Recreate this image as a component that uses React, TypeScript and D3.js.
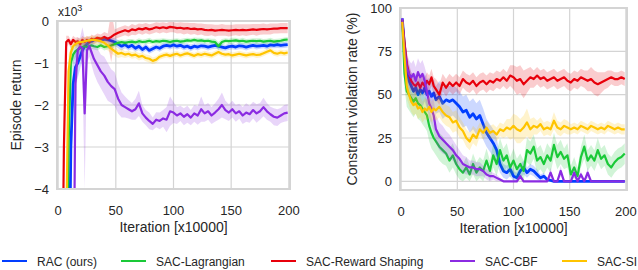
import React from 'react'
import * as d3 from 'd3'

// iteration [x10000] sample points shared by every curve
const X = [
  1, 3, 5, 7, 9, 11, 13, 15,
  17, 19, 21, 23, 25, 27, 29, 31,
  34, 37, 40, 43, 46, 49, 52, 55,
  58, 61, 64, 67, 70, 73, 76, 79,
  82, 85, 88, 91, 94, 97, 100, 103,
  106, 109, 112, 115, 118, 121, 124, 127,
  130, 133, 136, 139, 142, 145, 148, 151,
  154, 157, 160, 163, 166, 169, 172, 175,
  178, 181, 184, 187, 190, 193, 196, 199,
]

const NAMES = ['RAC (ours)', 'SAC-Lagrangian', 'SAC-Reward Shaping', 'SAC-CBF', 'SAC-SI']
const COLORS = ['#023eff', '#1ac938', '#e8000b', '#8b2be2', '#ffc400']

// episode return (x10^3)
const RET_RAC = [
  -8, -8, -8, -8, -8, -3, -1.5, -1.1,
  -1.0, -0.85, -0.7, -0.6, -0.55, -0.5, -0.48, -0.45,
  -0.44, -0.46, -0.43, -0.45, -0.47, -0.5, -0.55, -0.6,
  -0.56, -0.62, -0.58, -0.65, -0.6, -0.68, -0.62, -0.7,
  -0.66, -0.62, -0.65, -0.6, -0.58, -0.6, -0.57, -0.6,
  -0.58, -0.62, -0.6, -0.64, -0.6, -0.62, -0.59, -0.6,
  -0.62, -0.6, -0.58, -0.6, -0.62, -0.64, -0.61, -0.6,
  -0.62, -0.59, -0.6, -0.62, -0.6, -0.58, -0.6, -0.59,
  -0.58, -0.6, -0.57, -0.58, -0.56, -0.58, -0.57, -0.56,
]
const RET_RAC_SD = [
  0, 0, 0, 0, 0, 1.0, 0.6, 0.4,
  0.35, 0.3, 0.2, 0.12, 0.1, 0.08, 0.08, 0.07,
  0.07, 0.08, 0.08, 0.07, 0.08, 0.09, 0.1, 0.1,
  0.09, 0.08, 0.09, 0.08, 0.09, 0.08, 0.09, 0.08,
  0.08, 0.07, 0.08, 0.08, 0.07, 0.08, 0.07, 0.08,
  0.07, 0.08, 0.07, 0.08, 0.07, 0.08, 0.07, 0.07,
  0.08, 0.07, 0.08, 0.07, 0.08, 0.07, 0.08, 0.07,
  0.07, 0.08, 0.07, 0.08, 0.07, 0.07, 0.08, 0.07,
  0.07, 0.08, 0.07, 0.07, 0.08, 0.07, 0.07, 0.07,
]
const RET_LAG = [
  -8, -8, -8, -8, -3, -1.0, -0.8, -0.72,
  -0.68, -0.65, -0.62, -0.6, -0.62, -0.6, -0.58, -0.6,
  -0.62, -0.58, -0.62, -0.6, -0.58, -0.55, -0.52, -0.5,
  -0.52, -0.5, -0.49, -0.51, -0.48, -0.5, -0.49, -0.47,
  -0.5, -0.48, -0.49, -0.47, -0.48, -0.5, -0.48, -0.47,
  -0.49, -0.48, -0.46, -0.47, -0.45, -0.47, -0.46, -0.48,
  -0.47, -0.49, -0.5, -0.6, -0.5, -0.47, -0.48, -0.47,
  -0.46, -0.48, -0.47, -0.49, -0.48, -0.47, -0.48, -0.47,
  -0.49, -0.48, -0.47, -0.49, -0.48, -0.47, -0.45, -0.44,
]
const RET_LAG_SD = [
  0, 0, 0, 0, 1.0, 0.4, 0.2, 0.15,
  0.12, 0.1, 0.1, 0.09, 0.1, 0.09, 0.08, 0.08,
  0.08, 0.07, 0.08, 0.07, 0.08, 0.07, 0.07, 0.06,
  0.06, 0.07, 0.06, 0.06, 0.07, 0.06, 0.06, 0.07,
  0.06, 0.06, 0.07, 0.06, 0.06, 0.07, 0.06, 0.06,
  0.06, 0.07, 0.06, 0.06, 0.06, 0.07, 0.06, 0.06,
  0.06, 0.07, 0.08, 0.1, 0.07, 0.06, 0.06, 0.07,
  0.06, 0.06, 0.07, 0.06, 0.06, 0.06, 0.07, 0.06,
  0.06, 0.06, 0.07, 0.06, 0.06, 0.06, 0.06, 0.06,
]
const RET_RS = [
  -8, -8, -3, -0.5, -0.45, -0.55, -0.45, -0.5,
  -0.48, -0.55, -0.45, -0.5, -0.45, -0.5, -0.42, -0.45,
  -0.4, -0.42, -0.38, -0.42, -0.38, -0.32, -0.28, -0.25,
  -0.22, -0.25, -0.2, -0.22, -0.18, -0.2, -0.17, -0.2,
  -0.18, -0.15, -0.17, -0.15, -0.17, -0.14, -0.15, -0.17,
  -0.16, -0.18, -0.17, -0.19, -0.18, -0.2, -0.19, -0.21,
  -0.22, -0.21, -0.23, -0.22, -0.21, -0.22, -0.23, -0.22,
  -0.21, -0.22, -0.21, -0.22, -0.21, -0.2, -0.21, -0.2,
  -0.19, -0.2, -0.19, -0.18, -0.18, -0.17, -0.17, -0.17,
]
const RET_RS_SD = [
  0, 0, 1.0, 0.15, 0.1, 0.1, 0.1, 0.1,
  0.1, 0.1, 0.1, 0.1, 0.1, 0.1, 0.1, 0.1,
  0.1, 0.1, 0.12, 0.12, 0.6, 0.12, 0.12, 0.12,
  0.12, 0.12, 0.13, 0.12, 0.12, 0.13, 0.12, 0.12,
  0.12, 0.12, 0.13, 0.12, 0.12, 0.13, 0.12, 0.13,
  0.13, 0.14, 0.13, 0.14, 0.13, 0.14, 0.13, 0.14,
  0.14, 0.13, 0.14, 0.13, 0.14, 0.13, 0.14, 0.13,
  0.13, 0.14, 0.13, 0.14, 0.13, 0.13, 0.14, 0.13,
  0.13, 0.12, 0.13, 0.12, 0.12, 0.12, 0.12, 0.12,
]
const RET_CBF = [
  -8, -8, -8, -8, -8, -8, -8, -1.5,
  -0.7, -0.6, -0.65, -2.2, -0.7, -0.6, -0.75, -0.9,
  -1.05, -1.2, -1.3, -1.45, -1.55, -1.62, -1.85, -2.0,
  -2.05, -2.1, -2.15, -2.1, -1.96, -2.2, -2.3, -2.38,
  -2.45, -2.35, -2.38, -2.32, -2.35, -2.15, -2.18, -2.25,
  -2.2, -2.28, -2.22, -2.3, -2.2, -2.25, -2.1, -2.2,
  -2.15, -2.25, -2.18, -2.1, -2.0, -2.12, -2.18, -2.1,
  -2.2, -2.15, -2.25, -2.18, -2.22, -2.12, -2.2, -2.15,
  -2.05, -2.15, -2.22, -2.28, -2.3, -2.25, -2.2, -2.18,
]
const RET_CBF_SD = [
  0, 0, 0, 0, 0, 0, 0, 1.0,
  0.3, 0.2, 0.5, 1.8, 0.3, 0.25, 0.3, 0.35,
  0.4, 0.4, 0.45, 0.45, 0.4, 0.4, 0.35, 0.3,
  0.25, 0.22, 0.2, 0.25, 0.3, 0.2, 0.18, 0.2,
  0.15, 0.18, 0.2, 0.2, 0.3, 0.35, 0.25, 0.2,
  0.18, 0.2, 0.2, 0.18, 0.2, 0.22, 0.3, 0.2,
  0.2, 0.2, 0.22, 0.25, 0.3, 0.22, 0.2, 0.2,
  0.2, 0.18, 0.2, 0.22, 0.2, 0.2, 0.22, 0.2,
  0.22, 0.2, 0.18, 0.2, 0.2, 0.18, 0.2, 0.2,
]
const RET_SI = [
  -8, -8, -8, -5, -1.2, -0.75, -0.6, -0.55,
  -0.52, -0.5, -0.5, -0.48, -0.47, -0.46, -0.45, -0.45,
  -0.46, -0.48, -0.52, -0.58, -0.66, -0.72, -0.78, -0.76,
  -0.8, -0.78, -0.82, -0.8, -0.85, -0.83, -0.88, -0.9,
  -0.95, -0.92, -0.85, -0.82, -0.8, -0.83, -0.8, -0.78,
  -0.82, -0.79, -0.77, -0.8, -0.83, -0.79, -0.81, -0.78,
  -0.8, -0.82, -0.78, -0.74, -0.78, -0.8, -0.79, -0.82,
  -0.8, -0.78, -0.8, -0.82, -0.8, -0.79, -0.81, -0.8,
  -0.77, -0.73, -0.7, -0.76, -0.78, -0.75, -0.77, -0.75,
]
const RET_SI_SD = [
  0, 0, 0, 1.0, 0.4, 0.15, 0.1, 0.1,
  0.1, 0.1, 0.1, 0.1, 0.1, 0.1, 0.1, 0.1,
  0.1, 0.11, 0.12, 0.12, 0.12, 0.11, 0.1, 0.1,
  0.08, 0.08, 0.08, 0.08, 0.09, 0.08, 0.08, 0.09,
  0.08, 0.08, 0.07, 0.07, 0.07, 0.07, 0.07, 0.07,
  0.07, 0.07, 0.07, 0.07, 0.07, 0.07, 0.07, 0.07,
  0.07, 0.07, 0.07, 0.07, 0.07, 0.07, 0.07, 0.07,
  0.07, 0.07, 0.07, 0.07, 0.07, 0.07, 0.07, 0.07,
  0.07, 0.07, 0.07, 0.07, 0.07, 0.07, 0.07, 0.07,
]

// constraint violation rate (%)
const VIO_RAC = [
  94, 78, 65, 58, 55, 52, 54, 50,
  53, 51, 54, 50, 52, 49, 51, 47,
  49, 45, 47, 46, 47, 45, 43, 40,
  41, 37, 39, 36, 38, 33, 28, 25,
  22, 18, 10, 6, 5, 7, 3, 2,
  6, 8, 5, 7, 6, 4, 2, 3,
  1, 0.5, 0, 0, 0, 0, 0, 0,
  0, 0, 0, 0, 0, 0, 0, 0,
  0, 0, 0, 0, 0, 0, 0, 0,
]
const VIO_RAC_SD = [
  1, 5, 7, 8, 8, 8, 8, 8,
  8, 8, 8, 8, 8, 8, 8, 8,
  9, 9, 9, 9, 9, 9, 9, 9,
  9, 9, 9, 9, 9, 9, 8, 8,
  8, 7, 5, 4, 4, 4, 3, 3,
  4, 4, 3, 3, 3, 3, 2, 2,
  1, 1, 0, 0, 0, 0, 0, 0,
  0, 0, 0, 0, 0, 0, 0, 0,
  0, 0, 0, 0, 0, 0, 0, 0,
]
const VIO_LAG = [
  93, 62, 52, 50, 48, 46, 48, 45,
  44, 42, 40, 38, 32, 28, 25, 23,
  20, 18, 16, 12, 15, 10, 7, 5,
  8, 4, 10, 5, 8, 6, 12, 6,
  15, 10, 18, 12, 15, 8, 12, 7,
  10, 6, 18, 16, 20, 12, 14, 10,
  15, 12, 21, 14, 17, 13, 15, 4,
  8, 3, 14, 20, 12, 15, 12, 18,
  13, 15, 10, 8, 11, 13, 14, 16,
]
const VIO_LAG_SD = [
  2, 8, 9, 9, 9, 9, 9, 9,
  9, 9, 9, 9, 9, 9, 8, 8,
  8, 8, 7, 7, 7, 6, 6, 5,
  6, 5, 6, 6, 6, 6, 7, 6,
  7, 7, 7, 7, 7, 6, 7, 6,
  6, 6, 7, 7, 7, 7, 7, 6,
  7, 7, 7, 7, 7, 6, 7, 5,
  6, 5, 6, 7, 6, 6, 6, 7,
  6, 6, 6, 6, 6, 6, 6, 6,
]
const VIO_RS = [
  93, 80, 68, 62, 58, 56, 55, 57,
  54, 57, 55, 58, 56, 60, 55, 53,
  50, 57, 54, 57, 55, 57, 55, 59,
  57, 56, 58, 55, 57, 58, 56, 58,
  57, 59, 58, 60, 58, 61, 60, 58,
  59, 56, 58, 60, 59, 61, 59, 60,
  58, 59, 60, 58, 59, 60, 58, 57,
  59, 58, 60, 59, 58, 59, 57, 56,
  57, 58, 59, 60, 59, 59, 60, 59,
]
const VIO_RS_SD = [
  2, 6, 7, 6, 5, 5, 5, 5,
  5, 5, 5, 5, 5, 5, 5, 6,
  6, 5, 5, 5, 5, 5, 5, 5,
  5, 5, 5, 5, 5, 5, 5, 5,
  5, 5, 5, 5, 5, 6, 7, 8,
  8, 8, 7, 6, 5, 5, 5, 5,
  5, 5, 5, 5, 5, 5, 5, 5,
  5, 5, 5, 5, 6, 7, 7, 7,
  6, 5, 5, 4, 4, 4, 4, 4,
]
const VIO_CBF = [
  94, 76, 66, 62, 60, 62, 58, 63,
  60, 62, 58, 52, 45, 42, 38, 30,
  26, 24, 22, 20, 18, 15, 13, 10,
  9, 8, 8, 7, 7, 6, 4, 3,
  3, 2, 1, 0, 0, 0, 0, 0,
  3, 0, 0, 0, 0, 0, 0, 0,
  0, 5, 0, 0, 6, 0, 0, 0,
  5, 0, 4, 0, 5, 0, 0, 0,
  0, 0, 0, 0, 0, 0, 0, 0,
]
const VIO_CBF_SD = [
  1, 6, 8, 8, 8, 8, 8, 8,
  8, 8, 8, 9, 9, 9, 9, 8,
  8, 8, 7, 7, 6, 6, 5, 5,
  5, 4, 4, 4, 4, 3, 3, 3,
  2, 2, 1, 0, 0, 0, 0, 0,
  2, 0, 0, 0, 0, 0, 0, 0,
  0, 3, 0, 0, 3, 0, 0, 0,
  3, 0, 2, 0, 3, 0, 0, 0,
  0, 0, 0, 0, 0, 0, 0, 0,
]
const VIO_SI = [
  92, 72, 55, 50, 46, 44, 45, 42,
  43, 40, 42, 41, 43, 40, 42, 41,
  43, 40, 38, 37, 34, 35, 31, 29,
  25, 23, 27, 25, 30, 28, 31, 28,
  29, 27, 30, 29, 31, 30, 32, 30,
  29, 31, 34, 30, 32, 31, 33, 30,
  31, 30, 35, 31, 30, 32, 31, 30,
  31, 30, 32, 31, 30, 32, 31, 30,
  31, 30, 32, 31, 30, 31, 30, 30,
]
const VIO_SI_SD = [
  2, 7, 7, 6, 6, 6, 6, 6,
  6, 6, 6, 6, 6, 6, 6, 6,
  6, 6, 6, 6, 6, 6, 6, 5,
  5, 5, 5, 5, 4, 4, 4, 4,
  4, 4, 4, 4, 5, 6, 7, 8,
  7, 7, 8, 6, 5, 4, 4, 4,
  4, 4, 5, 4, 4, 4, 4, 3,
  3, 3, 3, 3, 3, 3, 3, 3,
  3, 3, 3, 3, 3, 3, 3, 3,
]

const X_TICKS = [0, 50, 100, 150, 200]
const RET_TICKS = [0, -1, -2, -3, -4]
const VIO_TICKS = [0, 25, 50, 75, 100]

const FONT = '"Liberation Sans", Arial, Helvetica, sans-serif'
const INK = '#262626'
const GRID = '#d4d4d4'

type PanelProps = {
  id: string
  left: number
  right: number
  top: number
  bottom: number
  yDomain: [number, number]
  yTicks: number[]
  yFloor: number | null
  means: number[][]
  spreads: number[][]
  ylabel: string
  ylabelX: number
  ylabelY: number
  exponent?: boolean
}

function Panel(p: PanelProps) {
  const x = d3.scaleLinear().domain([-1, 201]).range([p.left, p.right])
  const y = d3.scaleLinear().domain(p.yDomain).range([p.bottom, p.top])
  const clip = (v: number) => (p.yFloor == null ? v : Math.max(p.yFloor, v))

  const line = d3
    .line<number>()
    .x((_, i) => x(X[i]))
    .y((d) => y(d))

  const bands = p.means.map((m, k) =>
    d3
      .area<number>()
      .x((_, i) => x(X[i]))
      .y0((d, i) => y(clip(d - p.spreads[k][i])))
      .y1((d, i) => y(d + p.spreads[k][i]))(m)
  )

  const cx = (p.left + p.right) / 2

  return (
    <g>
      <defs>
        <clipPath id={p.id}>
          <rect x={p.left} y={p.top} width={p.right - p.left} height={p.bottom - p.top} />
        </clipPath>
      </defs>
      {X_TICKS.map((t) => (
        <line key={'gx' + t} x1={x(t)} x2={x(t)} y1={p.top} y2={p.bottom} stroke={GRID} strokeWidth={1.2} />
      ))}
      {p.yTicks.map((t) => (
        <line key={'gy' + t} x1={p.left} x2={p.right} y1={y(t)} y2={y(t)} stroke={GRID} strokeWidth={1.2} />
      ))}
      <g clipPath={`url(#${p.id})`}>
        {p.means.map((m, k) => (
          <g key={k}>
            <path d={bands[k] ?? ''} fill={COLORS[k]} fillOpacity={0.2} stroke="none" />
            <path
              d={line(m) ?? ''}
              fill="none"
              stroke={COLORS[k]}
              strokeWidth={k === 0 ? 2.8 : 2.2}
              strokeLinejoin="round"
            />
          </g>
        ))}
      </g>
      <rect
        x={p.left}
        y={p.top}
        width={p.right - p.left}
        height={p.bottom - p.top}
        fill="none"
        stroke={GRID}
        strokeWidth={2}
      />
      {X_TICKS.map((t) => (
        <text key={'tx' + t} x={x(t)} y={p.bottom + 26} textAnchor="middle" fontSize={13} fill={INK}>
          {t}
        </text>
      ))}
      {p.yTicks.map((t) => (
        <text key={'ty' + t} x={p.left - 8} y={y(t)} dy="0.36em" textAnchor="end" fontSize={13} fill={INK}>
          {t < 0 ? '\u2212' + Math.abs(t) : t}
        </text>
      ))}
      <text x={cx} y={p.bottom + 43} textAnchor="middle" fontSize={14} fill={INK}>
        Iteration [x10000]
      </text>
      <text
        transform={`translate(${p.ylabelX},${p.ylabelY}) rotate(-90)`}
        textAnchor="middle"
        fontSize={14}
        fill={INK}
      >
        {p.ylabel}
      </text>
      {p.exponent && (
        <text x={p.left + 1} y={p.top - 5} fontSize={12} fill={INK}>
          x10<tspan dy={-5} fontSize={9}>3</tspan>
        </text>
      )}
    </g>
  )
}

const LEGEND_LINE_X = [2, 121, 271, 450, 562]

export default function App() {
  return (
    <svg
      width={638}
      height={270}
      style={{ position: 'absolute', left: 0, top: 0, fontFamily: FONT, background: '#fff' }}
    >
      <rect width={638} height={270} fill="#fff" />
      <Panel
        id="clip-ret"
        left={57}
        right={290}
        top={21}
        bottom={189}
        yDomain={[-4, 0]}
        yTicks={RET_TICKS}
        yFloor={null}
        means={[RET_RAC, RET_LAG, RET_RS, RET_CBF, RET_SI]}
        spreads={[RET_RAC_SD, RET_LAG_SD, RET_RS_SD, RET_CBF_SD, RET_SI_SD]}
        ylabel="Episode return"
        ylabelX={21}
        ylabelY={105}
        exponent
      />
      <Panel
        id="clip-vio"
        left={400}
        right={627}
        top={8}
        bottom={190}
        yDomain={[-5, 100]}
        yTicks={VIO_TICKS}
        yFloor={0}
        means={[VIO_RAC, VIO_LAG, VIO_RS, VIO_CBF, VIO_SI]}
        spreads={[VIO_RAC_SD, VIO_LAG_SD, VIO_RS_SD, VIO_CBF_SD, VIO_SI_SD]}
        ylabel="Constraint violation rate (%)"
        ylabelX={357}
        ylabelY={99}
      />
      {NAMES.map((n, k) => (
        <g key={n}>
          <line
            x1={LEGEND_LINE_X[k]}
            x2={LEGEND_LINE_X[k] + 25}
            y1={261}
            y2={261}
            stroke={COLORS[k]}
            strokeWidth={2}
          />
          <text x={LEGEND_LINE_X[k] + 35} y={265.5} fontSize={12} fill={INK}>
            {n}
          </text>
        </g>
      ))}
    </svg>
  )
}
